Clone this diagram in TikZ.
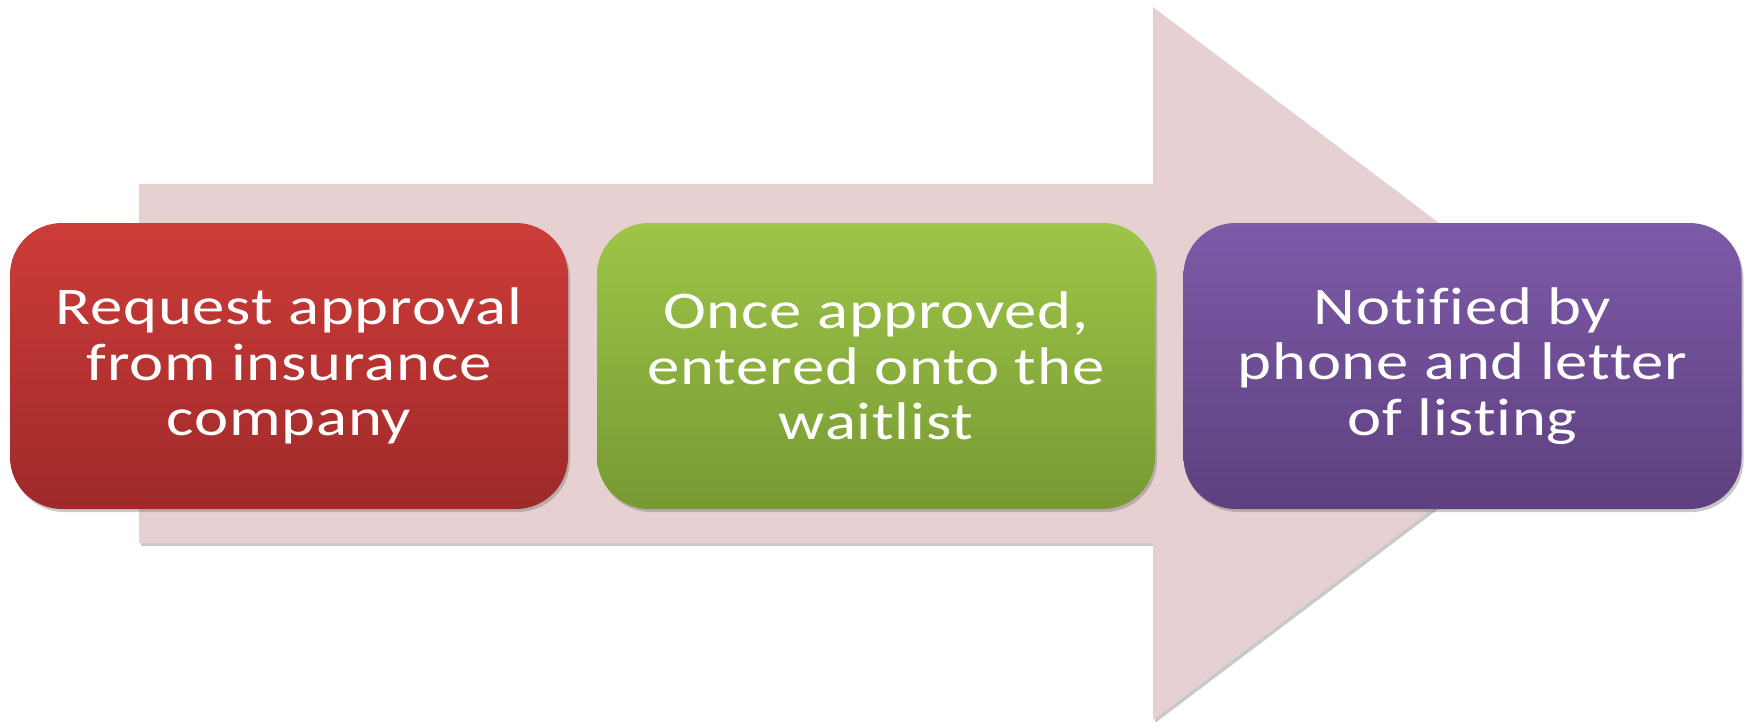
\documentclass[tikz,border=0pt]{standalone}
\usepackage{fontspec}
\newfontfamily\boxfont[FakeStretch=1.22, LetterSpace=1.5, Ligatures=NoCommon]{Carlito}
\usetikzlibrary{shadows}
\definecolor{arrowfill}{HTML}{E7D0D1}
\definecolor{redtop}{HTML}{CD3C39}
\definecolor{redbot}{HTML}{9E2A29}
\definecolor{greentop}{HTML}{9EC548}
\definecolor{greenbot}{HTML}{779933}
\definecolor{purptop}{HTML}{7D5AA8}
\definecolor{purpbot}{HTML}{5E407F}
\tikzset{
  stepbox/.style={rounded corners=52pt, minimum width=558pt, minimum height=286pt,
    inner sep=0pt, align=center, text=white,
    font=\boxfont\fontsize{53}{55.5}\selectfont,
    drop shadow={shadow xshift=2pt, shadow yshift=-3pt, opacity=0.35, fill=black!60}},
  bigarrow/.style={fill=arrowfill,
    drop shadow={shadow xshift=2pt, shadow yshift=-3pt, opacity=0.35, fill=black!60}}
}
\begin{document}
\begin{tikzpicture}[x=1pt,y=-1pt]
\useasboundingbox (0,0) rectangle (1747,722);
\fill[white] (0,0) rectangle (1747,722);
\path[bigarrow] (139,184) -- (1153,184) -- (1153,7) -- (1625,363.5) -- (1153,720) -- (1153,543) -- (139,543) -- cycle;
\node[stepbox, top color=redtop, bottom color=redbot] (s1) at (289,366)
  {Request approval\\from insurance\\company};
\node[stepbox, top color=greentop, bottom color=greenbot] (s2) at (876,366)
  {Once approved,\\entered onto the\\waitlist};
\node[stepbox, top color=purptop, bottom color=purpbot] (s3) at (1462.5,366)
  {Notified by\\phone and letter\\of listing};
\end{tikzpicture}
\end{document}
